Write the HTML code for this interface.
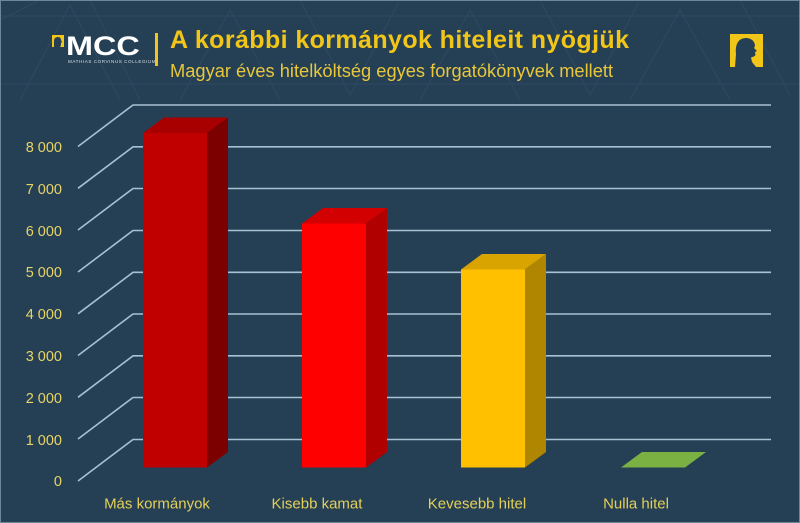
<!DOCTYPE html>
<html><head><meta charset="utf-8"><style>
html,body{margin:0;padding:0;background:#254055;}
svg{display:block;}
</style></head><body>
<svg width="800" height="523" viewBox="0 0 800 523" xmlns="http://www.w3.org/2000/svg">
<rect x="0" y="0" width="800" height="523" fill="#254055"/>
<!-- faint header pattern -->
<g stroke="#2f4a62" stroke-width="1.2" fill="none" opacity="0.8">
<polyline points="0,20 40,0"/>
<polyline points="20,100 70,5 120,100"/>
<polyline points="90,0 140,100"/>
<polyline points="180,100 230,10 280,100"/>
<polyline points="300,0 350,95 400,0"/>
<polyline points="420,100 470,10 520,100"/>
<polyline points="540,0 590,95 640,0"/>
<polyline points="630,100 680,10 730,100"/>
<polyline points="740,0 790,95"/>
<polyline points="0,16 800,16"/>
<polyline points="0,84 800,84"/>
</g>
<rect x="0.5" y="0.5" width="799" height="522" fill="none" stroke="#6f8699" stroke-width="1"/>

<!-- Logo -->
<rect x="52" y="35" width="12" height="12" fill="#f2c618"/>
<path d="M54,47 L54,41 C54,38 56,37 58,37 C60,37 61,38.5 61,40 L62,42 L61,43 L61,45 L60,47 Z" fill="#254055"/>
<text x="66" y="55" font-family="Liberation Sans, sans-serif" font-weight="bold" font-size="27" fill="#ffffff" transform="translate(66,0) scale(1.2,1) translate(-66,0)">MCC</text>
<text x="68" y="63" font-family="Liberation Sans, sans-serif" font-size="4.6" fill="#d8dde2" letter-spacing="0.55">MATHIAS CORVINUS COLLEGIUM</text>
<rect x="155" y="33" width="3" height="33" fill="#f2c618"/>

<!-- Titles -->
<text x="170" y="48" font-family="Liberation Sans, sans-serif" font-weight="bold" font-size="25" fill="#f2c618" letter-spacing="0.4">A korábbi kormányok hiteleit nyögjük</text>
<text x="170" y="77" font-family="Liberation Sans, sans-serif" font-size="18.3" fill="#e9c73a">Magyar éves hitelköltség egyes forgatókönyvek mellett</text>

<!-- Right icon -->
<rect x="730" y="34" width="33" height="33" fill="#f2c618"/>
<path d="M735,67 L736,54 C735,45 738,38 746,38 C752,38 755,42 755,46 L754,48 L757,51 L755,52 L755.5,55 C754,57 752,57 751,57.5 L752,62 L756,67 Z" fill="#254055"/>

<!-- gridlines -->
<g stroke="#a9c0d2" stroke-width="1.6" fill="none">
<polyline points="78,146.5 133,105 771,105"/>
<polyline points="78,188.3 133,146.8 771,146.8"/>
<polyline points="78,230 133,188.5 771,188.5"/>
<polyline points="78,272 133,230.5 771,230.5"/>
<polyline points="78,313.8 133,272.3 771,272.3"/>
<polyline points="78,355.5 133,314 771,314"/>
<polyline points="78,397.3 133,355.8 771,355.8"/>
<polyline points="78,439 133,397.5 771,397.5"/>
<polyline points="78,481 133,439.5 771,439.5"/>
</g>

<!-- y labels -->
<g font-family="Liberation Sans, sans-serif" font-size="14.5" fill="#e8d464" text-anchor="end">
<text x="62" y="152">8 000</text>
<text x="62" y="194">7 000</text>
<text x="62" y="236">6 000</text>
<text x="62" y="277">5 000</text>
<text x="62" y="319">4 000</text>
<text x="62" y="361">3 000</text>
<text x="62" y="403">2 000</text>
<text x="62" y="445">1 000</text>
<text x="62" y="486">0</text>
</g>

<!-- Bar 1 -->
<polygon points="143,133 164,117.5 228,117.5 207,133" fill="#a80000"/>
<polygon points="207,133 228,117.5 228,452 207,467.5" fill="#7c0000"/>
<rect x="143" y="133" width="64" height="334.5" fill="#c00000"/>
<!-- Bar 2 -->
<polygon points="302,223.5 323,208 387,208 366,223.5" fill="#d20000"/>
<polygon points="366,223.5 387,208 387,452 366,467.5" fill="#b00000"/>
<rect x="302" y="223.5" width="64" height="244" fill="#ff0000"/>
<!-- Bar 3 -->
<polygon points="461,269.5 482,254 546,254 525,269.5" fill="#d9a300"/>
<polygon points="525,269.5 546,254 546,452 525,467.5" fill="#b08600"/>
<rect x="461" y="269.5" width="64" height="198" fill="#ffc000"/>
<!-- Bar 4 -->
<polygon points="621,467.5 642,452 706,452 685,467.5" fill="#7bb043"/>

<!-- category labels -->
<g font-family="Liberation Sans, sans-serif" font-size="15" fill="#e3cf58" text-anchor="middle">
<text x="157" y="508.5">Más kormányok</text>
<text x="317" y="508.5">Kisebb kamat</text>
<text x="477" y="508.5">Kevesebb hitel</text>
<text x="636" y="508.5">Nulla hitel</text>
</g>
</svg>
</body></html>
